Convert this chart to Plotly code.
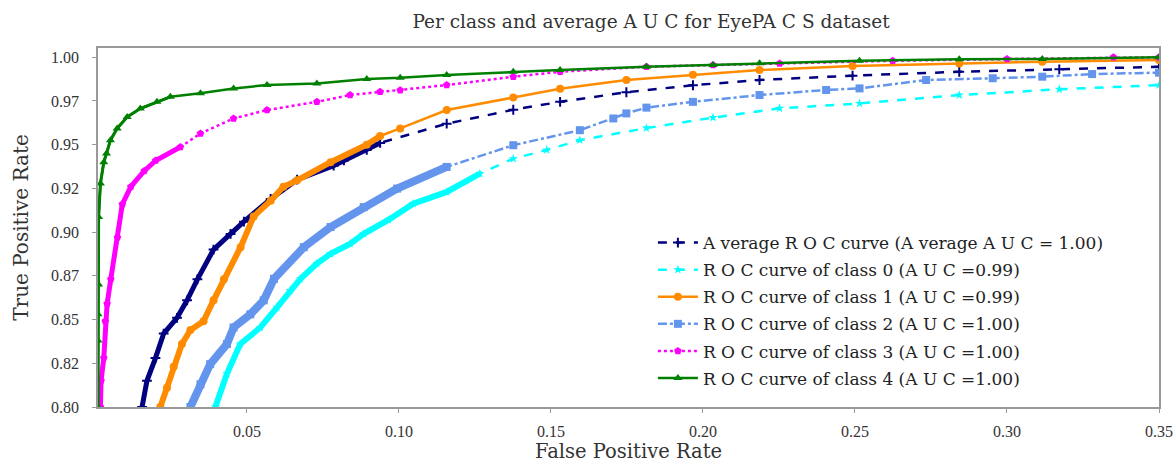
import numpy as np
import plotly.graph_objects as go

# ---- data ----
avg_fpr = [0.0155, 0.0171, 0.0199, 0.0226, 0.0270, 0.0303, 0.0337, 0.0390, 0.0446, 0.0490, 0.0578,
           0.0665, 0.0785, 0.0819, 0.0894, 0.0938, 0.1157, 0.1376, 0.1530, 0.1748, 0.1967, 0.2186,
           0.2492, 0.2843, 0.3172, 0.3500]
avg_tpr = [0.800, 0.815, 0.828, 0.842, 0.851, 0.861, 0.873, 0.890, 0.899, 0.906, 0.919,
           0.930, 0.938, 0.941, 0.947, 0.951, 0.962, 0.970, 0.9745, 0.980, 0.984, 0.987,
           0.9895, 0.9917, 0.9931, 0.9946]

c0_fpr = [0.0396, 0.0434, 0.0478, 0.0544, 0.0599, 0.0642, 0.0676, 0.0730, 0.0775, 0.0839, 0.0884,
          0.0965, 0.1047, 0.1157, 0.1266, 0.1376, 0.1486, 0.1595, 0.1814, 0.2033, 0.2252, 0.2515,
          0.2843, 0.3172, 0.3500]
c0_tpr = [0.800, 0.819, 0.836, 0.8455, 0.857, 0.8666, 0.8733, 0.882, 0.8876, 0.8933, 0.899,
          0.907, 0.9163, 0.923, 0.9335, 0.942, 0.947, 0.9526, 0.9595, 0.9655, 0.9708, 0.9736,
          0.9784, 0.9817, 0.9841]

c1_fpr = [0.0215, 0.0237, 0.0259, 0.0286, 0.0314, 0.0357, 0.0390, 0.0424, 0.0479, 0.0522, 0.0578,
          0.0620, 0.0665, 0.0775, 0.0894, 0.0938, 0.1004, 0.1157, 0.1376, 0.1530, 0.1748, 0.1967,
          0.2186, 0.2492, 0.2843, 0.3116, 0.3500]
c1_tpr = [0.800, 0.811, 0.823, 0.836, 0.844, 0.849, 0.861, 0.873, 0.8914, 0.909, 0.918,
          0.926, 0.9296, 0.940, 0.950, 0.955, 0.9593, 0.9698, 0.977, 0.982, 0.987, 0.990,
          0.9927, 0.995, 0.9965, 0.9975, 0.9985]

c2_fpr = [0.0314, 0.0347, 0.0379, 0.0434, 0.0456, 0.0511, 0.0555, 0.0589, 0.0687, 0.0775, 0.0884,
          0.0994, 0.1157, 0.1376, 0.1595, 0.1705, 0.1748, 0.1814, 0.1967, 0.2186, 0.2405, 0.2515,
          0.2734, 0.2953, 0.3116, 0.3280, 0.3500]
c2_tpr = [0.800, 0.813, 0.8245, 0.836, 0.8455, 0.853, 0.861, 0.8733, 0.8914, 0.9029, 0.9143,
          0.9249, 0.9373, 0.9497, 0.9583, 0.965, 0.9679, 0.9712, 0.9745, 0.9784, 0.9813, 0.9822,
          0.987, 0.988, 0.9889, 0.9904, 0.9912]

c3_fpr = [0.0018, 0.0020, 0.0029, 0.0034, 0.0040, 0.0052, 0.0074, 0.0090, 0.0118, 0.0162, 0.0200,
          0.0281, 0.0347, 0.0456, 0.0566, 0.0730, 0.0839, 0.0938, 0.1004, 0.1157, 0.1376, 0.1530,
          0.1814, 0.2033, 0.2252, 0.2624, 0.3000, 0.3350, 0.3500]
c3_tpr = [0.800, 0.815, 0.828, 0.849, 0.859, 0.873, 0.897, 0.916, 0.926, 0.935, 0.941,
          0.9487, 0.9564, 0.965, 0.9698, 0.9745, 0.9784, 0.9803, 0.9812, 0.9841, 0.9889, 0.9917,
          0.9946, 0.9956, 0.9965, 0.998, 0.999, 1.000, 1.000]

c4_fpr = [0.0010, 0.0010, 0.0010, 0.0012, 0.0012, 0.0018, 0.0029, 0.0038, 0.0051, 0.0073, 0.0106,
          0.0149, 0.0204, 0.0248, 0.0347, 0.0456, 0.0566, 0.0730, 0.0894, 0.1004, 0.1157, 0.1376,
          0.1530, 0.1814, 0.2033, 0.2186, 0.2515, 0.2843, 0.3116, 0.3500]
c4_tpr = [0.800, 0.838, 0.853, 0.870, 0.9086, 0.9278, 0.940, 0.945, 0.9526, 0.9593, 0.9659,
          0.9707, 0.9745, 0.9774, 0.9794, 0.9822, 0.9841, 0.985, 0.9876, 0.9883, 0.9899, 0.9917,
          0.9927, 0.9946, 0.9956, 0.9966, 0.998, 0.9989, 0.999, 1.000]

series_names = [
    "A verage R O C curve (A verage A U C = 1.00)",
    "R O C curve of class 0 (A U C =0.99)",
    "R O C curve of class 1 (A U C =0.99)",
    "R O C curve of class 2 (A U C =1.00)",
    "R O C curve of class 3 (A U C =1.00)",
    "R O C curve of class 4 (A U C =1.00)",
]

x_tickvals = [0.05, 0.10, 0.15, 0.20, 0.25, 0.30, 0.35]
x_ticktext = ["0.05", "0.10", "0.15", "0.20", "0.25", "0.30", "0.35"]
y_tickvals = [0.800, 0.825, 0.850, 0.875, 0.900, 0.925, 0.950, 0.975, 1.000]
y_ticktext = ["0.80", "0.82", "0.85", "0.87", "0.90", "0.92", "0.95", "0.97", "1.00"]

# ---- styles ----
styles = [
    dict(color="#000080", dash="dash", symbol="cross-thin", size=7, band=5, cut=0.095),
    dict(color="#00FFFF", dash="dash", symbol="star", size=7, band=6, cut=0.13),
    dict(color="#FF8C00", dash="solid", symbol="circle", size=8, band=6, cut=0.095),
    dict(color="#6495ED", dash="dashdot", symbol="square", size=8, band=8, cut=0.12),
    dict(color="#FF00FF", dash="dot", symbol="pentagon", size=8, band=5, cut=0.03),
    dict(color="#008000", dash="solid", symbol="triangle-up", size=8, band=3, cut=0.03),
]

data = [(avg_fpr, avg_tpr), (c0_fpr, c0_tpr), (c1_fpr, c1_tpr),
        (c2_fpr, c2_tpr), (c3_fpr, c3_tpr), (c4_fpr, c4_tpr)]

TICK_FONT = "Liberation Serif"
TEXT_FONT = "DejaVu Serif"
fig = go.Figure()

for i, ((xs, ys), st, name) in enumerate(zip(data, styles, series_names)):
    xa = np.array(xs)
    ya = np.array(ys)
    m = xa <= st["cut"]
    fig.add_trace(go.Scatter(
        x=xa[m], y=ya[m], mode="lines", showlegend=False, hoverinfo="skip",
        legendgroup=f"g{i}",
        line=dict(color=st["color"], width=st["band"], shape="linear"),
    ))
    marker = dict(symbol=st["symbol"], size=st["size"], color=st["color"])
    if st["symbol"] == "cross-thin":
        marker["line"] = dict(color=st["color"], width=2)
    fig.add_trace(go.Scatter(
        x=xa, y=ya, mode="lines+markers", name=name, legendgroup=f"g{i}",
        line=dict(color=st["color"], width=2.5, dash=st["dash"]),
        marker=marker,
    ))

axis_common = dict(
    showgrid=False, zeroline=False, showline=True, linecolor="#999999", linewidth=1.5,
    mirror=True, ticks="outside", ticklen=4, tickcolor="#999999", automargin=False,
    tickfont=dict(family=TICK_FONT, size=16, color="#333333"),
)

fig.update_layout(
    width=1176, height=463,
    margin=dict(l=98, r=17, t=48, b=56),
    paper_bgcolor="white", plot_bgcolor="white",
    title=dict(text="Per class and average A U C for EyePA C S dataset",
               x=0.5536, xanchor="center", y=0.953, yanchor="middle",
               font=dict(family=TEXT_FONT, size=18.5, color="#333333")),
    xaxis=dict(range=[0.001, 0.35], tickvals=x_tickvals, ticktext=x_ticktext,
               ticklabelstandoff=5,
               title=dict(text="False Positive Rate", standoff=6,
                          font=dict(family=TEXT_FONT, size=19.5, color="#333333")),
               **axis_common),
    yaxis=dict(range=[0.8, 1.0053], tickvals=y_tickvals, ticktext=y_ticktext,
               ticklabelstandoff=10,
               title=dict(text="True Positive Rate", standoff=17,
                          font=dict(family=TEXT_FONT, size=20, color="#333333")),
               **axis_common),
    legend=dict(x=0.523, xanchor="left", y=0.507, yanchor="top",
                bgcolor="rgba(255,255,255,0)", borderwidth=0,
                font=dict(family=TEXT_FONT, size=17, color="#222222"),
                itemwidth=40, tracegroupgap=2),
    showlegend=True,
)

fig.write_html("out.html")
